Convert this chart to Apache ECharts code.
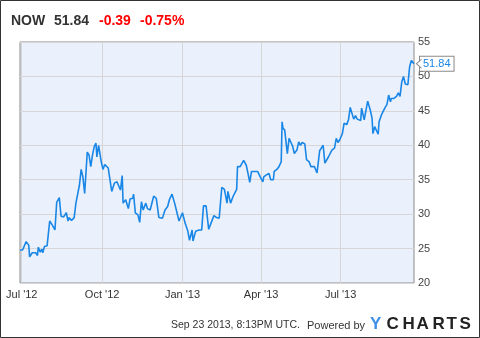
<!DOCTYPE html>
<html><head><meta charset="utf-8">
<script src="https://cdn.jsdelivr.net/npm/echarts@6/dist/echarts.min.js"></script>
<style>html,body{margin:0;padding:0;background:#fff}#c{width:480px;height:338px}</style>
</head><body><div id="c"></div>
<script>
// ---- data ----
const startDate = '2012-06-29';
const endDate = '2013-09-23';
const priceDates = [
'2012-06-29','2012-07-02','2012-07-06','2012-07-09','2012-07-10','2012-07-13','2012-07-17','2012-07-19','2012-07-20','2012-07-22',
'2012-07-24','2012-07-25','2012-07-27','2012-07-30','2012-08-02','2012-08-05','2012-08-08','2012-08-10','2012-08-13','2012-08-15',
'2012-08-18','2012-08-21','2012-08-23','2012-08-24','2012-08-27','2012-08-30','2012-09-01','2012-09-05','2012-09-07','2012-09-09',
'2012-09-11','2012-09-14','2012-09-16','2012-09-18','2012-09-20','2012-09-22','2012-09-24','2012-09-25','2012-09-27','2012-09-30',
'2012-10-02','2012-10-04','2012-10-08','2012-10-12','2012-10-15','2012-10-18','2012-10-21','2012-10-22','2012-10-24','2012-10-25',
'2012-10-28','2012-10-31','2012-11-02','2012-11-05','2012-11-06','2012-11-08','2012-11-11','2012-11-13','2012-11-15','2012-11-17',
'2012-11-20','2012-11-22','2012-11-25','2012-11-27','2012-11-29','2012-12-02','2012-12-05','2012-12-09','2012-12-12','2012-12-15',
'2012-12-17','2012-12-20','2012-12-23','2012-12-28','2013-01-01','2013-01-04','2013-01-07','2013-01-09','2013-01-12','2013-01-13',
'2013-01-16','2013-01-20','2013-01-23','2013-01-25','2013-01-28','2013-01-31','2013-02-03','2013-02-06','2013-02-09','2013-02-12',
'2013-02-15','2013-02-18','2013-02-19','2013-02-21','2013-02-22','2013-02-25','2013-02-28','2013-03-04','2013-03-05','2013-03-08',
'2013-03-10','2013-03-12','2013-03-15','2013-03-17','2013-03-19','2013-03-21','2013-03-25','2013-03-28','2013-03-31','2013-04-03',
'2013-04-04','2013-04-07','2013-04-10','2013-04-12','2013-04-15','2013-04-16','2013-04-19','2013-04-21','2013-04-24','2013-04-25',
'2013-04-26','2013-04-28','2013-05-01','2013-05-03','2013-05-05','2013-05-07','2013-05-09','2013-05-12','2013-05-14','2013-05-16',
'2013-05-18','2013-05-21','2013-05-23','2013-05-26','2013-05-28','2013-06-01','2013-06-04','2013-06-07','2013-06-09','2013-06-11',
'2013-06-13','2013-06-15','2013-06-17','2013-06-19','2013-06-21','2013-06-24','2013-06-26','2013-06-28','2013-06-30','2013-07-03',
'2013-07-05','2013-07-08','2013-07-10','2013-07-12','2013-07-14','2013-07-16','2013-07-18','2013-07-20','2013-07-22','2013-07-24',
'2013-07-25','2013-07-28','2013-07-30','2013-08-01','2013-08-04','2013-08-06','2013-08-07','2013-08-09','2013-08-11','2013-08-13',
'2013-08-14','2013-08-17','2013-08-19','2013-08-21','2013-08-23','2013-08-25','2013-08-27','2013-08-28','2013-08-31','2013-09-03',
'2013-09-05','2013-09-07','2013-09-09','2013-09-11','2013-09-13','2013-09-16','2013-09-17','2013-09-18','2013-09-20','2013-09-23'
];
const priceValues = [
24.8,24.8,26.0,25.5,23.8,24.4,24.4,24.0,25.2,24.5,
24.9,24.4,25.3,25.4,29.0,28.4,27.7,31.7,32.4,29.7,
29.6,30.2,29.0,29.5,29.1,29.5,31.6,34.2,36.5,35.4,
33.0,39.0,38.6,36.9,38.6,39.8,40.3,38.3,40.0,37.6,
36.5,37.2,36.7,33.3,34.5,34.7,33.8,33.5,35.6,31.6,
32.1,30.8,32.2,32.3,32.9,30.2,29.9,28.8,31.8,30.6,
31.6,30.8,30.6,30.4,32.6,32.3,29.5,29.4,30.6,31.1,
32.1,32.9,31.6,29.0,30.2,28.7,27.6,26.2,27.7,26.1,
27.5,27.7,27.7,31.2,31.2,27.8,28.8,29.8,29.5,29.4,
33.9,33.6,32.9,31.6,33.3,31.6,32.6,33.6,36.9,36.9,
37.1,37.8,37.1,35.9,34.6,36.2,36.2,36.2,35.4,34.7,
35.4,35.7,35.9,35.0,35.0,36.2,36.5,36.8,37.6,43.4,
42.5,42.2,38.8,41.0,40.8,39.9,38.8,39.3,40.5,40.0,
40.4,40.2,37.9,37.6,36.9,36.9,36.0,39.2,39.4,40.0,
37.4,37.6,38.3,38.1,39.3,39.6,41.0,40.4,40.8,41.7,
43.2,43.0,43.7,45.5,45.4,43.8,44.3,43.8,43.8,43.6,
45.4,43.7,43.6,46.4,45.1,43.9,41.7,42.7,42.5,41.6,
43.4,44.5,44.3,45.5,45.9,47.3,46.3,46.8,46.8,47.1,
47.6,47.1,49.2,50.0,48.9,48.8,48.8,51.4,52.3,51.84
];
const xTickDates = ['2012-07-01','2012-10-01','2013-01-01','2013-04-01','2013-07-01'];
const xTickLabels = ["Jul '12","Oct '12","Jan '13","Apr '13","Jul '13"];
const yMin = 20, yMax = 55, yStep = 5;
const ticker = 'NOW', lastPrice = '51.84', change = '-0.39', changePct = '-0.75%';
const footerText = 'Sep 23 2013, 8:13PM UTC.';
const poweredText = 'Powered by';
const logoLetters = ['Y','C','H','A','R','T','S'];

// ---- build ----
const FONT = '"Liberation Sans", Arial, sans-serif';
const cats = [];
for (let t = Date.parse(startDate + 'T00:00:00Z'); t <= Date.parse(endDate + 'T00:00:00Z'); t += 86400000) {
  cats.push(new Date(t).toISOString().slice(0, 10));
}
const lookup = {};
priceDates.forEach((d, i) => { lookup[d] = priceValues[i]; });
const seriesData = cats.map(d => (d in lookup ? lookup[d] : null));
const isTick = (idx, val) => xTickDates.indexOf(val) >= 0;
const lastIdx = priceValues.length - 1;

const logoX = [370, 386.5, 402.5, 416.5, 432.5, 446.5, 459.5];

const chart = echarts.init(document.getElementById('c'), null, {renderer: 'canvas'});
chart.setOption({
  animation: false,
  backgroundColor: '#fff',
  textStyle: {fontFamily: FONT},
  grid: {left: 20, right: 66, top: 42, bottom: 55, show: true,
         backgroundColor: '#ebf1fc', borderColor: '#8a8a8a', borderWidth: 1},
  xAxis: {
    type: 'category', data: cats, boundaryGap: false,
    axisLine: {show: false}, axisTick: {show: false},
    axisLabel: {interval: isTick, color: '#333', fontSize: 11, margin: 6, fontFamily: FONT,
      formatter: v => xTickLabels[xTickDates.indexOf(v)] || ''},
    splitLine: {show: true, interval: isTick, lineStyle: {color: '#d6d6d6', width: 1}}
  },
  yAxis: {
    type: 'value', position: 'right', min: yMin, max: yMax, interval: yStep,
    axisLine: {show: false}, axisTick: {show: false},
    axisLabel: {color: '#444', fontSize: 11, margin: 4, fontFamily: FONT},
    splitLine: {lineStyle: {color: '#d6d6d6', width: 1}}
  },
  series: [{
    type: 'line', data: seriesData, connectNulls: true, showSymbol: false, symbol: 'none',
    lineStyle: {color: '#1a87e6', width: 1.6},
    endLabel: {show: true, formatter: p => Number(p.value).toFixed(2), color: '#1a87e6',
      fontSize: 11, fontFamily: FONT, backgroundColor: '#fff', borderColor: '#8a8a8a', borderWidth: 1,
      padding: [2, 3, 1, 3], distance: 6},
    markPoint: {
      silent: true, animation: false,
      symbol: 'path://M5,0L0,4L5,8', symbolSize: [5, 9], symbolOffset: [5, 0],
      itemStyle: {color: '#fff', borderColor: '#8a8a8a', borderWidth: 1},
      label: {show: false},
      data: [{coord: [priceDates[lastIdx], priceValues[lastIdx]]}]
    }
  }],
  graphic: [
    {type: 'rect', shape: {x: 0.5, y: 0.5, width: 479, height: 337}, style: {fill: null, stroke: '#333', lineWidth: 1}, z: 100},
    {type: 'text', x: 11, y: 21, style: {text: ticker, font: 'bold 14px ' + FONT, fill: '#333', verticalAlign: 'middle'}},
    {type: 'text', x: 54, y: 21, style: {text: lastPrice, font: 'bold 14px ' + FONT, fill: '#333', verticalAlign: 'middle'}},
    {type: 'text', x: 99, y: 21, style: {text: change, font: 'bold 14px ' + FONT, fill: '#ff0000', verticalAlign: 'middle'}},
    {type: 'text', x: 140, y: 21, style: {text: changePct, font: 'bold 14px ' + FONT, fill: '#ff0000', verticalAlign: 'middle'}},
    {type: 'text', x: 300, y: 325.5, style: {text: footerText, font: '10.5px ' + FONT, fill: '#333', align: 'right', verticalAlign: 'middle'}},
    {type: 'text', x: 307, y: 325.5, style: {text: poweredText, font: '11px ' + FONT, fill: '#333', verticalAlign: 'middle'}}
  ].concat(logoLetters.map((ch, i) => ({
    type: 'text', x: logoX[i], y: 324.5,
    style: {text: ch, font: 'bold 17px ' + FONT, fill: i === 0 ? '#3d8ee6' : '#222', verticalAlign: 'middle'}
  })))
});
</script></body></html>
